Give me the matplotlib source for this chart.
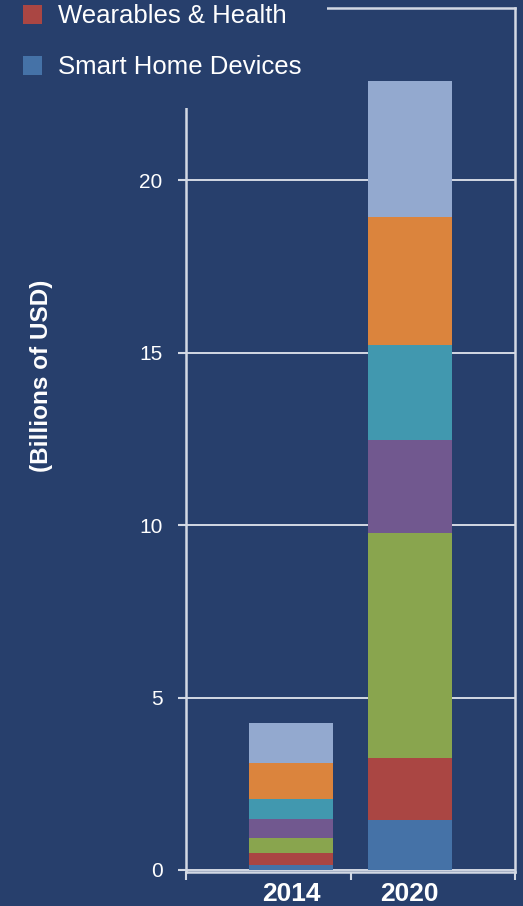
import numpy as np
import matplotlib.pyplot as plt
from matplotlib.patches import Rectangle

BG = '#273F6C'
LINE = '#D3D9E4'
FONT = 'Liberation Sans'

years = ['2014', '2020']
series_names = ['Smart Home Devices', 'Wearables & Health', 'Series 3', 'Series 4',
                'Series 5', 'Series 6', 'Series 7']
series_colors = ['#4572A7', '#AA4643', '#89A54E', '#71588F', '#4198AF', '#DB843D', '#93A9CF']
# values per series, [2014, 2020], billions of USD
smart_home = [0.15, 1.45]
wearables = [0.33, 1.79]
series_3 = [0.45, 6.52]
series_4 = [0.56, 2.72]
series_5 = [0.57, 2.75]
series_6 = [1.05, 3.71]
series_7 = [1.14, 3.94]
values = [smart_home, wearables, series_3, series_4, series_5, series_6, series_7]
yticks = [0, 5, 10, 15, 20]
legend_shown = ['Wearables & Health', 'Smart Home Devices']

W, H = 523, 906
fig = plt.figure(figsize=(W / 100, H / 100), dpi=100, facecolor=BG)
ax = fig.add_axes([186 / W, 1 - 872 / H, (515 - 186) / W, (872 - 8) / H])
ax.set_facecolor(BG)

x = np.array([0.14, 0.86])
bottom = np.zeros(2)
handles = {}
for name, vals, col in zip(series_names, values, series_colors):
    bars = ax.bar(x, vals, width=0.51, bottom=bottom, color=col, linewidth=0, zorder=3)
    handles[name] = bars
    bottom += np.array(vals)

ax.set_xlim(-0.5, 1.5)
ax.set_ylim(-0.06, 25)

ax.set_yticks(yticks)
ax.set_yticklabels([str(t) for t in yticks], family=FONT, fontsize=15, color='white')
ax.tick_params(axis='y', length=6, width=1.5, color=LINE, pad=11)
ax.yaxis.grid(True, color=LINE, linewidth=1.4, zorder=1)

ax.set_xticks([-0.5, 0.5, 1.5])
ax.set_xticklabels(['', '', ''])
ax.tick_params(axis='x', which='major', length=6, width=1.5, color=LINE)
ax.set_xticks(x, minor=True)
ax.set_xticklabels(years, minor=True, family=FONT, fontweight='bold',
                   fontsize=19, color='white')
ax.tick_params(axis='x', which='minor', length=0, pad=7)

for s in ax.spines.values():
    s.set_color(LINE)
    s.set_linewidth(1.8)

fig.text(42 / W, 1 - 376 / H, '(Billions of USD)', rotation=90, ha='center', va='center',
         family=FONT, fontweight='bold', fontsize=17.5, color='white')

# legend area (covers top-left of the frame)
fig.patches.append(Rectangle((0, 1 - 108 / H), 327 / W, 108 / H, transform=fig.transFigure,
                             facecolor=BG, edgecolor='none', zorder=5))
leg = fig.legend([handles[n] for n in legend_shown], legend_shown, loc='upper left',
                 bbox_to_anchor=(0 / W, 1 + 19 / H), frameon=False,
                 prop={'family': FONT, 'size': 18.5},
                 handlelength=0.75, handleheight=0.75, handletextpad=0.6, labelspacing=1.06)
leg.set_zorder(6)
for t in leg.get_texts():
    t.set_color('white')

fig.savefig('out.png', dpi=100, facecolor=BG)
